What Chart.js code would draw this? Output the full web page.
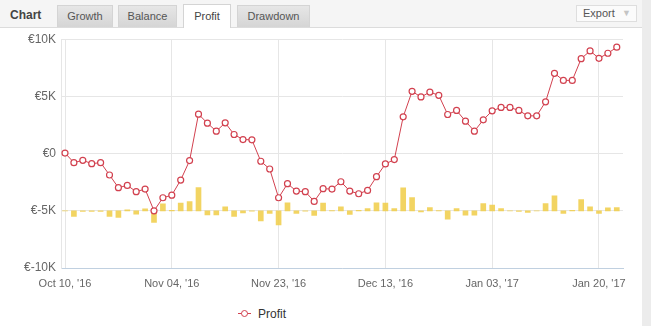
<!DOCTYPE html>
<html>
<head>
<meta charset="utf-8">
<script src="https://cdn.jsdelivr.net/npm/chart.js@4.4.1/dist/chart.umd.min.js"></script>
<style>
    body { margin: 0; width: 651px; height: 326px; overflow: hidden; background: #fff; position: relative; font-family: "Liberation Sans", Arial, sans-serif; }
    #topbar { position: absolute; left: 0; top: 0; width: 642px; height: 28px; background: #f5f5f5; border-bottom: 1px solid #dcdcdc; box-sizing: border-box; }
    .title { position: absolute; left: 10px; top: 8px; font-size: 12px; font-weight: bold; color: #444; }
    .tab { position: absolute; top: 5px; height: 22px; box-sizing: border-box; border: 1px solid #d4d4d4; border-bottom: none; background: linear-gradient(#e6e6e6, #d5d5d5); font-size: 11px; color: #555; text-align: center; line-height: 21px; }
    .tab.on { background: #fff; top: 4px; height: 24px; color: #444; line-height: 23px; }
    #export { position: absolute; left: 576px; top: 5px; width: 61px; height: 17px; box-sizing: border-box; border: 1px solid #dedede; background: #fbfbfb; font-size: 11px; color: #555; line-height: 15px; padding-left: 6px; }
    #export span { position: absolute; right: 5px; top: 0; color: #c4c4c4; font-size: 9px; }
    #strip { position: absolute; left: 642px; top: 0; width: 9px; height: 326px; background: #ececec; }
    #wrap { position: absolute; left: 0; top: 27px; width: 642px; height: 275px; }
    #legend { position: absolute; left: 238px; top: 306px; height: 16px; font-size: 12px; color: #333; line-height: 16px; }
    #legend .mark { position: absolute; left: 0; top: 7px; width: 13px; height: 1px; background: #d2414f; }
    #legend .dot { position: absolute; left: 3px; top: -3px; width: 5px; height: 5px; border: 1px solid #d2414f; border-radius: 50%; background: #fff; }
    #legend .txt { position: absolute; left: 20px; top: 0; }
</style>
</head>
<body>
<div id="topbar">
    <div class="title">Chart</div>
    <div class="tab" style="left:57px;width:56px">Growth</div>
    <div class="tab" style="left:118px;width:59px">Balance</div>
    <div class="tab on" style="left:183px;width:48px">Profit</div>
    <div class="tab" style="left:237px;width:73px">Drawdown</div>
    <div id="export">Export<span>&#9660;</span></div>
</div>
<div id="strip"></div>
<div id="wrap"><canvas id="profit-chart" width="642" height="275"></canvas></div>
<div id="legend"><div class="mark"><div class="dot"></div></div><div class="txt">Profit</div></div>

<script>
// x axis ticks (point index -> date label)
const tickIndex = [0, 12, 24, 36, 48, 60];
const tickLabels = ["Oct 10, '16", "Nov 04, '16", "Nov 23, '16", "Dec 13, '16", "Jan 03, '17", "Jan 20, '17"];

// cumulative profit (EUR), one value per point
const profit = [
    50, -790, -585, -880, -790, -1870, -2980, -2780, -3330, -3100,
    -5000, -3860, -3630, -2310, -610, 3450, 2660, 1960, 2690, 1670,
    1230, 1200, -670, -1345, -3860, -2630, -3275, -3330, -4180, -3070,
    -3100, -2460, -3275, -3510, -3215, -2020, -905, -525, 3215, 5440,
    4950, 5380, 5090, 3420, 3770, 2835, 1960, 2950, 3740, 4035,
    4035, 3770, 3300, 3300, 4530, 7020, 6400, 6400, 8300, 8975,
    8330, 8770, 9300
];

// per-period result bars (drawn on their own axis, zero sits on the -5K line)
const periodResult = [
    0, -1000, -90, -120, -90, -1000, -1170, 175, -580, 350,
    -2050, 1230, 90, 1350, 1630, 4080, -740, -740, 700, -1000,
    -350, -50, -1750, -470, -2450, 1400, -470, -50, -820, 1350,
    50, 700, -650, 90, 400, 1400, 1350, 400, 4030, 2330,
    -175, 580, 50, -1450, 400, -750, -750, 1280, 1000, 400,
    0, -90, -300, 0, 1280, 2630, -470, 90, 1980, 700,
    -470, 525, 580
];

function euro(v) {
    if (v === 0) return '€0';
    return '€' + (v / 1000) + 'K';
}

const ctx = document.getElementById('profit-chart').getContext('2d');

new Chart(ctx, {
    data: {
        datasets: [{
            type: 'line',
            label: 'Profit',
            data: profit.map((v, i) => ({ x: i, y: v })),
            yAxisID: 'y',
            borderColor: '#d2414f',
            borderWidth: 1,
            pointRadius: 3,
            pointBorderWidth: 1.2,
            pointBackgroundColor: '#fff',
            pointBorderColor: '#d2414f',
            tension: 0,
            order: 0
        }, {
            type: 'bar',
            label: 'Result',
            data: periodResult.map((v, i) => ({ x: i, y: v })),
            yAxisID: 'y2',
            backgroundColor: 'rgba(240, 204, 70, 0.85)',
            barThickness: 5,
            order: 1
        }]
    },
    options: {
        responsive: false,
        animation: false,
        layout: { padding: { top: 12, right: 19 } },
        plugins: {
            legend: { display: false },
            tooltip: { enabled: false }
        },
        scales: {
            x: {
                type: 'linear',
                min: -0.45,
                max: 62.7,
                offset: false,
                afterBuildTicks: scale => { scale.ticks = tickIndex.map(v => ({ value: v })); },
                afterFit: scale => { scale.height = 34; },
                grid: { color: '#e6e6e6', drawTicks: false, offset: false },
                border: { color: '#c0d0e0' },
                ticks: {
                    autoSkip: false,
                    maxRotation: 0,
                    padding: 9,
                    color: '#666',
                    font: { family: 'Liberation Sans', size: 11 },
                    callback: v => tickLabels[tickIndex.indexOf(v)]
                }
            },
            y: {
                min: -10000,
                max: 10000,
                afterFit: scale => { scale.width = 61; },
                grid: { color: '#e6e6e6', drawTicks: false },
                border: { color: '#e6e6e6' },
                ticks: {
                    stepSize: 5000,
                    padding: 5,
                    color: '#666',
                    font: { family: 'Liberation Sans', size: 12 },
                    callback: v => euro(v)
                }
            },
            y2: {
                display: false,
                min: -10000,
                max: 30000
            }
        }
    }
});
</script>
</body>
</html>
